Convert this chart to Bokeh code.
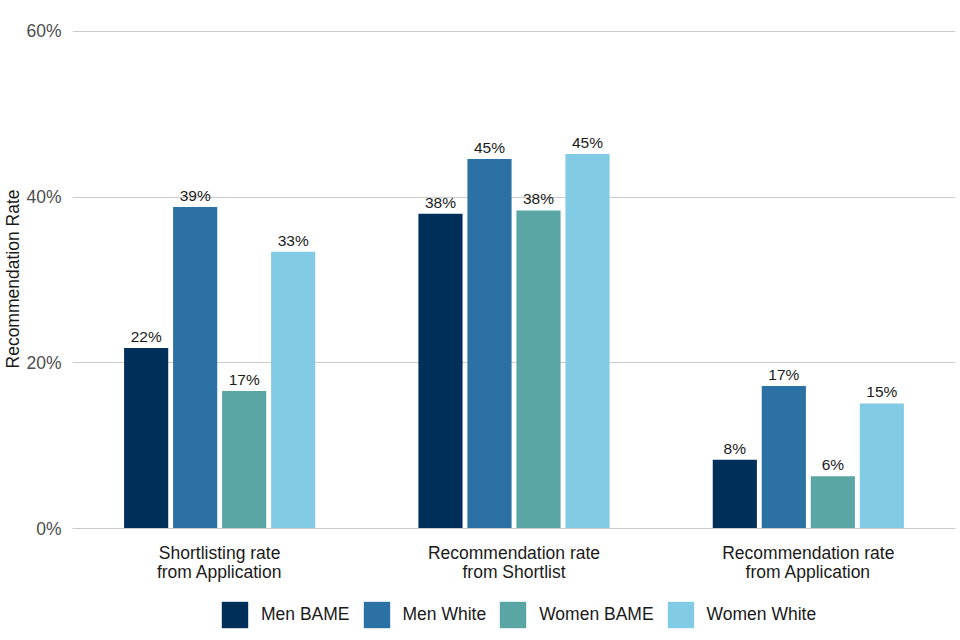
from bokeh.plotting import figure
from bokeh.models import ColumnDataSource, FactorRange, Range1d, FixedTicker, PrintfTickFormatter, Legend, LegendItem
from bokeh.layouts import column
from bokeh.transform import dodge
from bokeh.core.properties import value
from bokeh.embed import file_html
from bokeh.resources import INLINE

categories = ["Shortlisting rate\nfrom Application", "Recommendation rate\nfrom Shortlist", "Recommendation rate\nfrom Application"]
series = ["Men BAME", "Men White", "Women BAME", "Women White"]
men_bame = [21.8, 38.0, 8.3]
men_white = [38.8, 44.6, 17.2]
women_bame = [16.6, 38.4, 6.3]
women_white = [33.4, 45.2, 15.1]
colors = ["#00305a", "#2b71a3", "#5aa6a4", "#82cbe4"]
y_ticks = [0, 20, 40, 60]

FONT = "Liberation Sans"

xr = FactorRange(*categories, range_padding=0)
yr = Range1d(0, 60.24)
p = figure(x_range=xr, y_range=yr,
           width=960, height=585, output_backend="svg", toolbar_location=None,
           min_border_left=72, min_border_right=5, min_border_top=29, min_border_bottom=57)
p.outline_line_color = None
p.background_fill_color = "white"

data = {"cat": categories}
for name, vals in zip(series, [men_bame, men_white, women_bame, women_white]):
    data[name] = vals
    data[name + "_lbl"] = [f"{v:.0f}%" for v in vals]
src = ColumnDataSource(data)

step = 0.1665
offsets = [-1.5 * step, -0.5 * step, 0.5 * step, 1.5 * step]
for name, col, off in zip(series, colors, offsets):
    p.vbar(x=dodge("cat", off, range=xr), top=name, width=0.15, source=src,
           fill_color=col, line_color=None)
    p.text(x=dodge("cat", off, range=xr), y=name, text=name + "_lbl", source=src,
           text_align="center", text_baseline="bottom", y_offset=-3,
           text_font=value(FONT), text_font_size="15.5px", text_color="#1a1a1a")

p.xaxis.axis_line_color = "#cccccc"
p.xaxis.major_tick_line_color = None
p.xaxis.minor_tick_line_color = None
p.xaxis.major_label_text_font = FONT
p.xaxis.major_label_text_font_size = "17.5px"
p.xaxis.major_label_text_color = "#1a1a1a"
p.xaxis.major_label_text_line_height = 0.95
p.xaxis.major_label_standoff = 8
p.xgrid.grid_line_color = None

p.yaxis.ticker = FixedTicker(ticks=y_ticks)
p.yaxis.formatter = PrintfTickFormatter(format="%d%%")
p.yaxis.axis_line_color = None
p.yaxis.major_tick_line_color = None
p.yaxis.minor_tick_line_color = None
p.yaxis.major_label_text_font = FONT
p.yaxis.major_label_text_font_size = "17.5px"
p.yaxis.major_label_text_color = "#4d4d4d"
p.yaxis.major_label_standoff = 5
p.yaxis.axis_label = "Recommendation Rate"
p.yaxis.axis_label_text_font = FONT
p.yaxis.axis_label_text_font_size = "17.5px"
p.yaxis.axis_label_text_font_style = "normal"
p.yaxis.axis_label_text_color = "#1a1a1a"
p.yaxis.axis_label_standoff = 0
p.ygrid.grid_line_color = "#cccccc"

# legend strip (shares the chart's ranges and data; its renderers are hidden)
lg = figure(x_range=xr, y_range=yr, width=960, height=55, output_backend="svg", toolbar_location=None,
            x_axis_type=None, y_axis_type=None, min_border=0)
lg.outline_line_color = None
lg.grid.grid_line_color = None
items = []
for name, col, off in zip(series, colors, offsets):
    r = lg.vbar(x=dodge("cat", off, range=xr), top=name, width=0.15, source=src,
                fill_color=col, line_color=None, visible=False)
    items.append(LegendItem(label=name, renderers=[r]))
legend = Legend(items=items, orientation="horizontal", location=(146, 9),
                glyph_width=33, glyph_height=33, label_standoff=10, spacing=10,
                label_text_font=FONT, label_text_font_size="17.5px", label_text_color="#1a1a1a",
                border_line_color=None, background_fill_alpha=0, padding=0, margin=0,
                inactive_fill_alpha=0, click_policy="none")
lg.add_layout(legend, "center")

layout = column(p, lg, spacing=0)
open("out.html", "w").write(file_html(layout, INLINE))
